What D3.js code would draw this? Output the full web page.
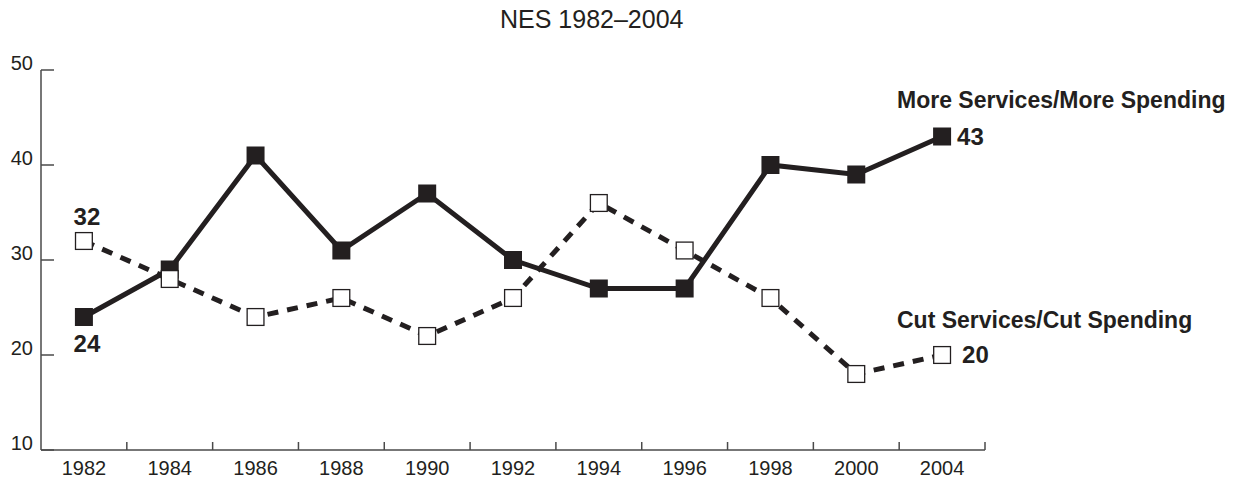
<!DOCTYPE html>
<html>
<head>
<meta charset="utf-8">
<script src="https://cdn.jsdelivr.net/npm/d3@7"></script>
<style>
  body { margin: 0; background: #fff; }
  text { font-family: "Liberation Sans", Arial, sans-serif; fill: #231f20; }
</style>
</head>
<body>
<svg width="1238" height="480"></svg>
<script>
// survey years and percentages (NES 1982-2004)
const years = ['1982','1984','1986','1988','1990','1992','1994','1996','1998','2000','2004'];
const moreSpending = [24, 29, 41, 31, 37, 30, 27, 27, 40, 39, 43];
const cutSpending  = [32, 28, 24, 26, 22, 26, 36, 31, 26, 18, 20];
const yTicks = [10, 20, 30, 40, 50];

const svg = d3.select('svg');
const ink = '#231f20';
const axisCol = '#4a4a4a';

const x = d3.scaleBand().domain(years).range([41, 985]);
const y = d3.scaleLinear().domain([10, 50]).range([450, 70]);
const cx = d => x(d) + x.bandwidth() / 2;

// title
svg.append('text')
  .attr('x', 500).attr('y', 28)
  .style('font-size', '25px')
  .text('NES 1982–2004');

// y axis: line, inward ticks, labels sitting on the ticks
svg.append('line')
  .attr('x1', 41).attr('x2', 41).attr('y1', y(50)).attr('y2', y(10))
  .attr('stroke', axisCol).attr('stroke-width', 1.5);
svg.selectAll('.ytick')
  .data(yTicks)
  .enter().append('line')
  .attr('x1', 41).attr('x2', 54)
  .attr('y1', d => y(d)).attr('y2', d => y(d))
  .attr('stroke', axisCol).attr('stroke-width', 1.5);
svg.selectAll('.ylab')
  .data(yTicks)
  .enter().append('text')
  .attr('x', 33).attr('y', d => y(d))
  .attr('text-anchor', 'end')
  .style('font-size', '20px')
  .text(d => d);

// x axis: ticks between the year bands
svg.append('line')
  .attr('x1', 41).attr('x2', 985).attr('y1', 450).attr('y2', 450)
  .attr('stroke', axisCol).attr('stroke-width', 1.5);
svg.selectAll('.xtick')
  .data(years.slice(1).concat(['end']))
  .enter().append('line')
  .attr('x1', d => d === 'end' ? 985 : x(d))
  .attr('x2', d => d === 'end' ? 985 : x(d))
  .attr('y1', 450).attr('y2', 442)
  .attr('stroke', axisCol).attr('stroke-width', 1.5);
svg.selectAll('.xlab')
  .data(years)
  .enter().append('text')
  .attr('x', d => cx(d)).attr('y', 475)
  .attr('text-anchor', 'middle')
  .style('font-size', '20px')
  .text(d => d);

const line = d3.line().x((d, i) => cx(years[i])).y(d => y(d));

// cut services (dashed, hollow squares)
svg.append('path')
  .datum(cutSpending)
  .attr('d', line)
  .attr('fill', 'none')
  .attr('stroke', ink).attr('stroke-width', 5)
  .attr('stroke-dasharray', '11 9');

// more services (solid, filled squares)
svg.append('path')
  .datum(moreSpending)
  .attr('d', line)
  .attr('fill', 'none')
  .attr('stroke', ink).attr('stroke-width', 5);

const s = 18;
svg.selectAll('.more')
  .data(moreSpending)
  .enter().append('rect')
  .attr('x', (d, i) => cx(years[i]) - s / 2)
  .attr('y', d => y(d) - s / 2)
  .attr('width', s).attr('height', s)
  .attr('fill', ink);

svg.selectAll('.cut')
  .data(cutSpending)
  .enter().append('rect')
  .attr('x', (d, i) => cx(years[i]) - s / 2 + 0.6)
  .attr('y', d => y(d) - s / 2 + 0.6)
  .attr('width', s - 1.2).attr('height', s - 1.2)
  .attr('fill', '#fff')
  .attr('stroke', ink).attr('stroke-width', 1.3);

// value labels at the ends
const bold = sel => sel.style('font-size', '24px').style('font-weight', 'bold');
const last = years.length - 1;
svg.append('text').call(bold)
  .attr('x', cx(years[0]) + 3).attr('y', y(cutSpending[0]) - 16)
  .attr('text-anchor', 'middle').text(cutSpending[0]);
svg.append('text').call(bold)
  .attr('x', cx(years[0]) + 3).attr('y', y(moreSpending[0]) + 35)
  .attr('text-anchor', 'middle').text(moreSpending[0]);
svg.append('text').call(bold)
  .attr('x', cx(years[last]) + 15).attr('y', y(moreSpending[last]) + 8)
  .text(moreSpending[last]);
svg.append('text').call(bold)
  .attr('x', cx(years[last]) + 20).attr('y', y(cutSpending[last]) + 8)
  .text(cutSpending[last]);

// series names
svg.append('text')
  .attr('x', 897).attr('y', 108)
  .style('font-size', '23px').style('font-weight', 'bold')
  .text('More Services/More Spending');
svg.append('text')
  .attr('x', 897).attr('y', 328)
  .style('font-size', '23px').style('font-weight', 'bold')
  .text('Cut Services/Cut Spending');
</script>
</body>
</html>
